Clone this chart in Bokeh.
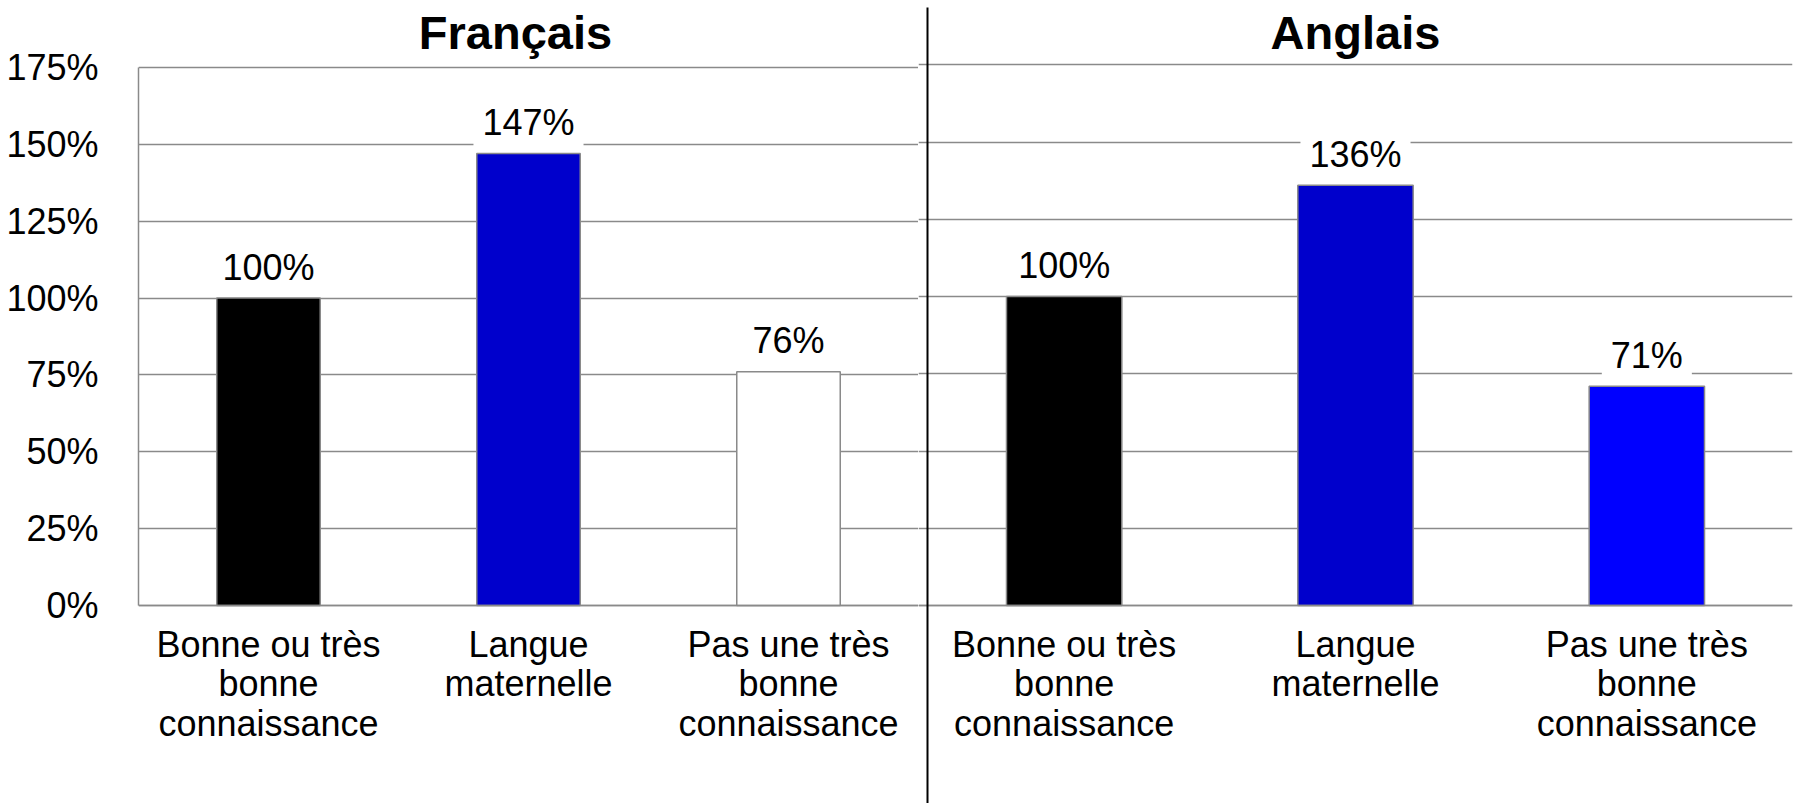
from bokeh.plotting import figure
from bokeh.models import (FactorRange, Range1d, FixedTicker, PrintfTickFormatter,
                          Label, BoxAnnotation, ColumnDataSource)
from bokeh.layouts import row
from bokeh.embed import file_html
from bokeh.resources import INLINE

# ---------------- data ----------------
categories = ["Bonne ou très\nbonne\nconnaissance", "Langue\nmaternelle", "Pas une très\nbonne\nconnaissance"]
francais_values = [100, 147, 76]
anglais_values = [100, 136, 71]
francais_colors = ["#000000", "#0000CC", "#FFFFFF"]
anglais_colors = ["#000000", "#0000CC", "#0000FF"]
panel_titles = ["Français", "Anglais"]
y_ticks = [0, 25, 50, 75, 100, 125, 150, 175]
y_max = 175

# ---------------- layout constants (pixels) ----------------
FONT = "Liberation Sans"
GRID = "#8a8a8a"
H = 803
BASE_PX = 605          # pixel row of the 0% line
TITLE_BASELINE_PX = 32


def make_panel(vals, colors, title, width, border_left, border_right, top_px,
               show_y, bar_width, title_x):
    # frame covers the full height; y range chosen so 0 -> BASE_PX and y_max -> top_px
    k = (BASE_PX - top_px) / y_max
    y_start = -(H - BASE_PX) / k
    y_end = y_max + top_px / k
    p = figure(x_range=FactorRange(factors=categories), y_range=Range1d(y_start, y_end),
               width=width, height=H, output_backend="svg", toolbar_location=None,
               min_border_left=border_left, min_border_right=border_right,
               min_border_top=0, min_border_bottom=0,
               y_axis_location="left" if show_y else None)
    p.outline_line_color = None
    p.background_fill_color = "white"
    p.border_fill_color = "white"

    src = ColumnDataSource(dict(x=categories, top=vals, color=colors))
    p.vbar(x="x", top="top", width=bar_width, source=src, fill_color="color",
           line_color="#8a8a8a", line_width=1.5)

    p.xgrid.visible = False
    p.ygrid.ticker = FixedTicker(ticks=y_ticks)
    p.ygrid.grid_line_color = GRID
    p.ygrid.grid_line_width = 1.5

    xa = p.xaxis[0]
    xa.fixed_location = 0
    xa.axis_line_color = GRID
    xa.axis_line_width = 1.5
    xa.major_tick_line_color = None
    xa.minor_tick_line_color = None
    xa.major_label_text_font = FONT
    xa.major_label_text_font_size = "36px"
    xa.major_label_text_color = "black"
    xa.major_label_text_line_height = 0.97
    xa.major_label_standoff = 12

    if show_y:
        ya = p.yaxis[0]
        ya.ticker = FixedTicker(ticks=y_ticks)
        ya.bounds = (0, y_max)
        ya.formatter = PrintfTickFormatter(format="%d%%")
        ya.axis_line_color = GRID
        ya.axis_line_width = 1.5
        ya.major_tick_line_color = None
        ya.minor_tick_line_color = None
        ya.major_label_text_font = FONT
        ya.major_label_text_font_size = "36px"
        ya.major_label_text_color = "black"
        ya.major_label_standoff = 34

    # value labels: categorical synthetic coordinate of factor i is i + 0.5
    for i, v in enumerate(vals):
        p.add_layout(Label(x=i + 0.5, y=v, text=f"{v}%", y_offset=31,
                           text_align="center", text_baseline="middle",
                           text_font=FONT, text_font_size="36px", text_color="black",
                           background_fill_color="white", padding=(9, 6)))

    # panel title
    p.add_layout(Label(x=title_x, y=y_max + (top_px - TITLE_BASELINE_PX) / k,
                       text=title, text_align="center", text_baseline="alphabetic",
                       text_font=FONT, text_font_size="47px", text_font_style="bold",
                       text_color="black"))
    return p


pL = make_panel(francais_values, francais_colors, panel_titles[0], 918, 138, 0, 67,
                True, 0.398, 1.45)
pR = make_panel(anglais_values, anglais_colors, panel_titles[1], 877, 0, 3, 64.3,
                False, 0.396, 1.5)

# vertical divider between the two panels
pR.add_layout(BoxAnnotation(left=8, right=10, top=7, bottom=H,
                            left_units="canvas", right_units="canvas",
                            top_units="canvas", bottom_units="canvas",
                            fill_color="black", fill_alpha=1.0, line_color=None))

layout = row(pL, pR)
open("out.html", "w").write(file_html(layout, INLINE))
